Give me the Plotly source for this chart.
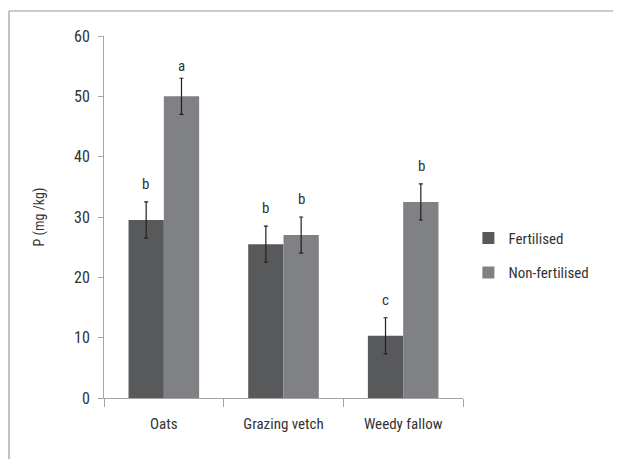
import plotly.graph_objects as go

categories = ["Oats", "Grazing vetch", "Weedy fallow"]
fertilised = [29.5, 25.5, 10.3]
fertilised_err = [3.0, 3.0, 3.0]
non_fertilised = [50.0, 27.0, 32.5]
non_fertilised_err = [3.0, 3.0, 3.0]
letters_fert = ["b", "b", "c"]
letters_nonfert = ["a", "b", "b"]
y_ticks = [0, 10, 20, 30, 40, 50, 60]

FONT = "Liberation Sans Narrow, Roboto Condensed, Arial Narrow, Roboto, sans-serif"
TXT = "#333333"

W, H = 605, 451          # page body has an 8px default margin on every side
L, T, PW, PH = 96, 28, 359, 362
R, B = W - L - PW, H - T - PH

fig = go.Figure()
fig.add_trace(go.Bar(
    name="Fertilised", x=categories, y=fertilised,
    marker=dict(color="#58595b", line=dict(width=0)),
    error_y=dict(type="data", array=fertilised_err, color="#231f20", thickness=1.2, width=2),
    legendgroup="f",
))
fig.add_trace(go.Bar(
    name="Non-fertilised", x=categories, y=non_fertilised,
    marker=dict(color="#808184", line=dict(width=0)),
    error_y=dict(type="data", array=non_fertilised_err, color="#231f20", thickness=1.2, width=2),
    legendgroup="n",
))

# significance letters
for i, c in enumerate(categories):
    fig.add_annotation(x=c, y=fertilised[i] + fertilised_err[i] + 3.0, text=letters_fert[i],
                       xshift=-18, showarrow=False, font=dict(family=FONT, size=15, color=TXT))
    fig.add_annotation(x=c, y=non_fertilised[i] + non_fertilised_err[i] + 3.0, text=letters_nonfert[i],
                       xshift=18, yshift=-6 if letters_nonfert[i] == "a" else 0,
                       showarrow=False, font=dict(family=FONT, size=15, color=TXT))

# outer frame (top and left lines)
def px(xf):
    return (xf - L) / PW

def py(yf):
    return (H - B - yf) / PH

fig.add_shape(type="line", xref="paper", yref="paper",
              x0=px(1), x1=px(W + 10), y0=py(3), y1=py(3),
              line=dict(color="#9a9a9a", width=1.2))
fig.add_shape(type="line", xref="paper", yref="paper",
              x0=px(1), x1=px(1), y0=py(3), y1=py(H + 10),
              line=dict(color="#9a9a9a", width=1.2))

fig.update_layout(
    width=W, height=H,
    margin=dict(l=L, r=R, t=T, b=B),
    paper_bgcolor="white", plot_bgcolor="white",
    barmode="group", bargap=0.41, bargroupgap=0,
    font=dict(family=FONT, size=14, color=TXT),
    showlegend=True,
    legend=dict(x=1.015, y=0.394, xanchor="left", yanchor="middle",
                font=dict(family=FONT, size=15, color=TXT),
                traceorder="grouped", tracegroupgap=12, itemwidth=30),
    xaxis=dict(showline=True, linecolor="#a6a6a6", linewidth=1,
               ticks="outside", tickson="boundaries", ticklen=8, tickcolor="#a6a6a6",
               ticklabelstandoff=12,
               tickfont=dict(family=FONT, size=15, color=TXT), showgrid=False),
    yaxis=dict(range=[0, 60], tickvals=y_ticks, showline=True, linecolor="#a6a6a6", linewidth=1,
               ticks="outside", ticklen=5, tickcolor="#a6a6a6", showgrid=False, zeroline=False,
               ticklabelstandoff=5,
               tickfont=dict(family=FONT, size=16, color=TXT),
               title=dict(text="P (mg /kg)", font=dict(family=FONT, size=14, color=TXT), standoff=26)),
)

fig.write_html("out.html", config={"displayModeBar": False})
